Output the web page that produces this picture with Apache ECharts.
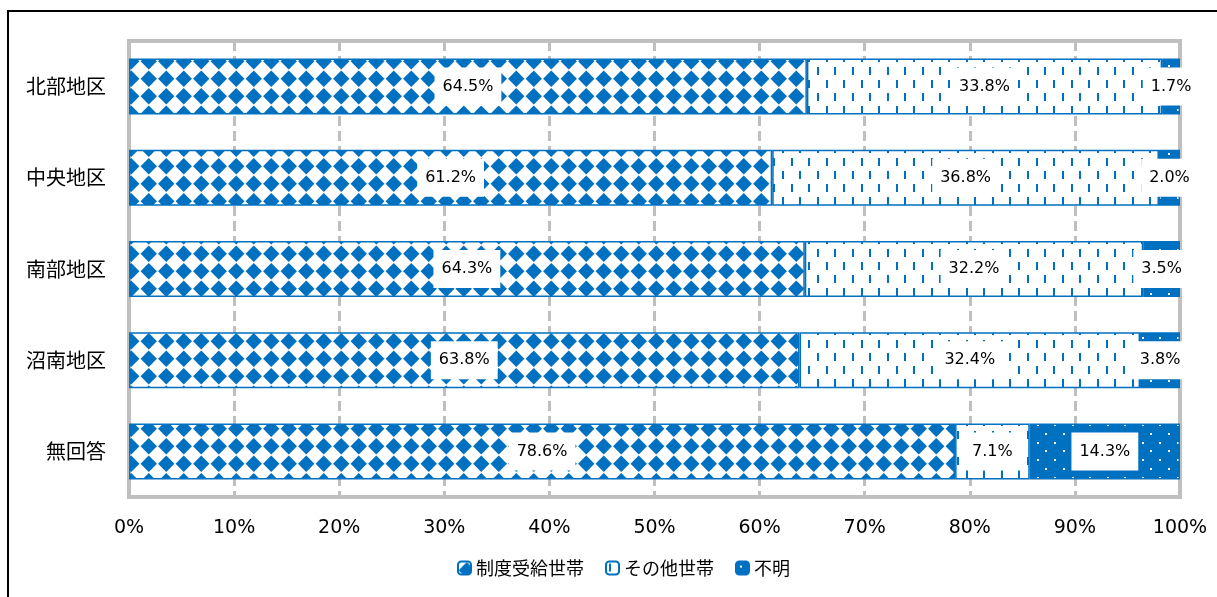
<!DOCTYPE html>
<html><head><meta charset="utf-8">
<script src="https://cdn.jsdelivr.net/npm/echarts@6/dist/echarts.min.js"></script>
<style>html,body{margin:0;padding:0;background:#fff;}#c{width:1217px;height:597px;}</style>
</head><body><div id="c"></div>
<script>
const categories = ['北部地区', '中央地区', '南部地区', '沼南地区', '無回答'];
const seriesNames = ['制度受給世帯', 'その他世帯', '不明'];
const seidoValues = [64.5, 61.2, 64.3, 63.8, 78.6];
const sonotaValues = [33.8, 36.8, 32.2, 32.4, 7.1];
const fumeiValues = [1.7, 2.0, 3.5, 3.8, 14.3];
const xTickLabels = ['0%', '10%', '20%', '30%', '40%', '50%', '60%', '70%', '80%', '90%', '100%'];

const BLUE = '#0070C0';
const NUM_FONT = '"DejaVu Sans", "Noto Sans CJK JP", sans-serif';
const JP_FONT = '"Noto Sans CJK JP", sans-serif';

function makeCanvas(w, h) { const c = document.createElement('canvas'); c.width = w; c.height = h; return c; }
function diamondPattern() {
  const P = 17.5, c = makeCanvas(35, 35), g = c.getContext('2d');
  g.fillStyle = '#fff'; g.fillRect(0, 0, 35, 35); g.fillStyle = BLUE;
  const r = 8.2;
  for (let i = -1; i <= 2; i++) for (let j = -1; j <= 2; j++) {
    const cx = P / 2 + i * P, cy = P / 2 + j * P;
    g.beginPath(); g.moveTo(cx, cy - r); g.lineTo(cx + r, cy); g.lineTo(cx, cy + r); g.lineTo(cx - r, cy); g.closePath(); g.fill();
  }
  return c;
}
function dashPattern() {
  const c = makeCanvas(35, 26), g = c.getContext('2d');
  g.fillStyle = '#fff'; g.fillRect(0, 0, 35, 26); g.fillStyle = BLUE;
  for (let i = 0; i < 4; i++) {
    const x = Math.round(i * 8.75) + 3;
    const y0 = (i % 2) * 13 + 2;
    g.fillRect(x, y0, 2, 8);
  }
  return c;
}
function dotPattern() {
  const c = makeCanvas(35, 35), g = c.getContext('2d');
  g.fillStyle = BLUE; g.fillRect(0, 0, 35, 35); g.fillStyle = '#fff';
  for (let i = 0; i < 2; i++) for (let j = 0; j < 2; j++) {
    g.fillRect(Math.round(i * 17.5) + 4, Math.round(j * 17.5) + 4, 2, 2);
    g.fillRect(Math.round(i * 17.5 + 8.75) + 4, Math.round(j * 17.5 + 8.75) + 4, 2, 2);
  }
  return c;
}
const patterns = [diamondPattern(), dashPattern(), dotPattern()];
const valueLists = [seidoValues, sonotaValues, fumeiValues];

const chart = echarts.init(document.getElementById('c'), null, { renderer: 'canvas' });
const series = seriesNames.map((name, k) => ({
  name, type: 'bar', stack: 'total', barWidth: 56,
  data: valueLists[k],
  itemStyle: { color: { image: patterns[k], repeat: 'repeat' }, borderColor: BLUE, borderWidth: 1.5 },
  label: {
    show: true, position: 'inside',
    formatter: p => p.value.toFixed(1) + '%',
    color: '#000', fontSize: 16, fontFamily: NUM_FONT,
    backgroundColor: '#fff', padding: [11, 8]
  },
  emphasis: { disabled: true }
}));

chart.setOption({
  animation: false,
  backgroundColor: '#fff',
  graphic: [{
    type: 'rect', z: 100, silent: true,
    shape: { x: 8, y: 11, width: 1300, height: 700 },
    style: { fill: 'none', stroke: '#000', lineWidth: 2 }
  }],
  grid: { left: 129, right: 37, top: 41, height: 456, show: true, borderColor: '#bfbfbf', borderWidth: 4, backgroundColor: 'transparent' },
  xAxis: {
    type: 'value', min: 0, max: 100, interval: 10,
    axisLine: { show: false }, axisTick: { show: false },
    splitLine: { show: true, lineStyle: { color: '#bfbfbf', width: 3, type: [10, 5] } },
    axisLabel: { formatter: v => xTickLabels[Math.round(v / 10)], color: '#000', fontSize: 19, fontFamily: NUM_FONT, margin: 22 }
  },
  yAxis: {
    type: 'category', data: categories, inverse: true,
    axisLine: { show: false }, axisTick: { show: false },
    axisLabel: { color: '#000', fontSize: 20, fontFamily: JP_FONT, margin: 23 }
  },
  legend: {
    data: seriesNames, left: 452, top: 554,
    itemWidth: 13, itemHeight: 13, itemGap: 21,
    textStyle: { color: '#000', fontSize: 18, fontFamily: JP_FONT }
  },
  series
});
</script></body></html>
